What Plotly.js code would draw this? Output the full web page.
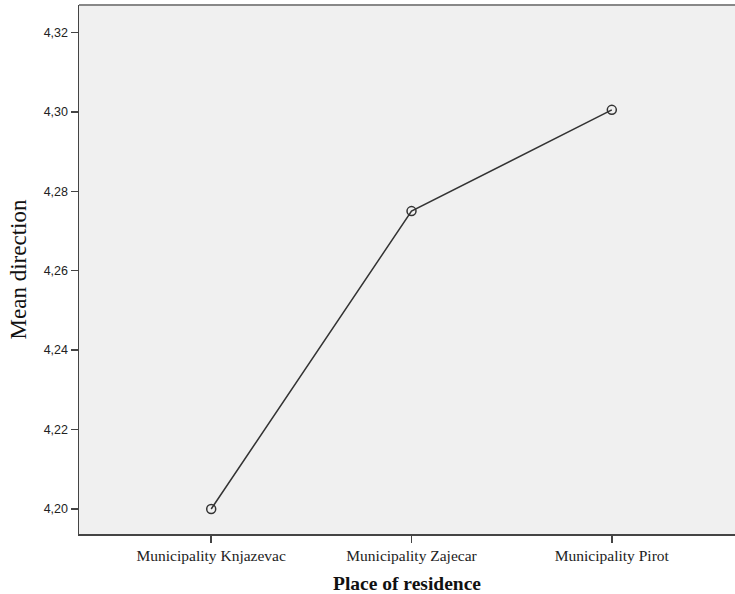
<!DOCTYPE html>
<html>
<head>
<meta charset="utf-8">
<script src="https://cdn.plot.ly/plotly-3.0.1.min.js"></script>
<style>html,body{margin:0;padding:0;background:#fff;}#chart{width:735px;height:594px;}</style>
</head>
<body>
<div id="chart"></div>
<script>
const categories = ["Municipality Knjazevac", "Municipality Zajecar", "Municipality Pirot"];
const meanValues = [4.200, 4.275, 4.3005];
const yTickValues = [4.20, 4.22, 4.24, 4.26, 4.28, 4.30, 4.32];

const trace = {
  type: "scatter",
  mode: "lines+markers",
  x: [0, 1, 2],
  y: meanValues,
  line: {color: "#333333", width: 1.5},
  marker: {symbol: "circle-open", size: 9, color: "#333333", line: {width: 1.5, color: "#333333"}},
  hoverinfo: "skip",
  showlegend: false
};

const layout = {
  width: 735, height: 594,
  margin: {l: 79, r: 0, t: 5, b: 60},
  paper_bgcolor: "#ffffff",
  plot_bgcolor: "#f0f0f0",
  separators: ",.",
  xaxis: {
    range: [-0.66, 2.615],
    tickmode: "array",
    tickvals: [0, 1, 2],
    ticktext: categories,
    ticks: "outside", ticklen: 7, tickwidth: 1.5, tickcolor: "#444444",
    showline: true, linecolor: "#444444", linewidth: 1.5,
    showgrid: false, zeroline: false,
    tickfont: {family: "Liberation Serif, Times New Roman, serif", size: 15.5, color: "#222222"},
    title: {text: "Place of residence", font: {family: "Liberation Serif, Times New Roman, serif", size: 19.5, color: "#111111", weight: "bold"}, standoff: 15}
  },
  yaxis: {
    range: [4.1937, 4.3269],
    tickmode: "array",
    tickvals: yTickValues,
    tickformat: ".2f",
    ticks: "outside", ticklen: 7, tickwidth: 1.5, tickcolor: "#444444",
    showline: true, linecolor: "#444444", linewidth: 1.5,
    showgrid: false, zeroline: false,
    tickfont: {family: "Liberation Sans, Arial, sans-serif", size: 12.5, color: "#222222"},
    title: {text: "Mean direction", font: {family: "Liberation Serif, Times New Roman, serif", size: 23, color: "#111111"}, standoff: 10}
  },
  shapes: [{type: "line", xref: "paper", yref: "paper", x0: 0, x1: 1, y0: 1, y1: 1, line: {color: "#888888", width: 2}}]
};

Plotly.newPlot("chart", [trace], layout, {staticPlot: true, displayModeBar: false});
</script>
</body>
</html>
